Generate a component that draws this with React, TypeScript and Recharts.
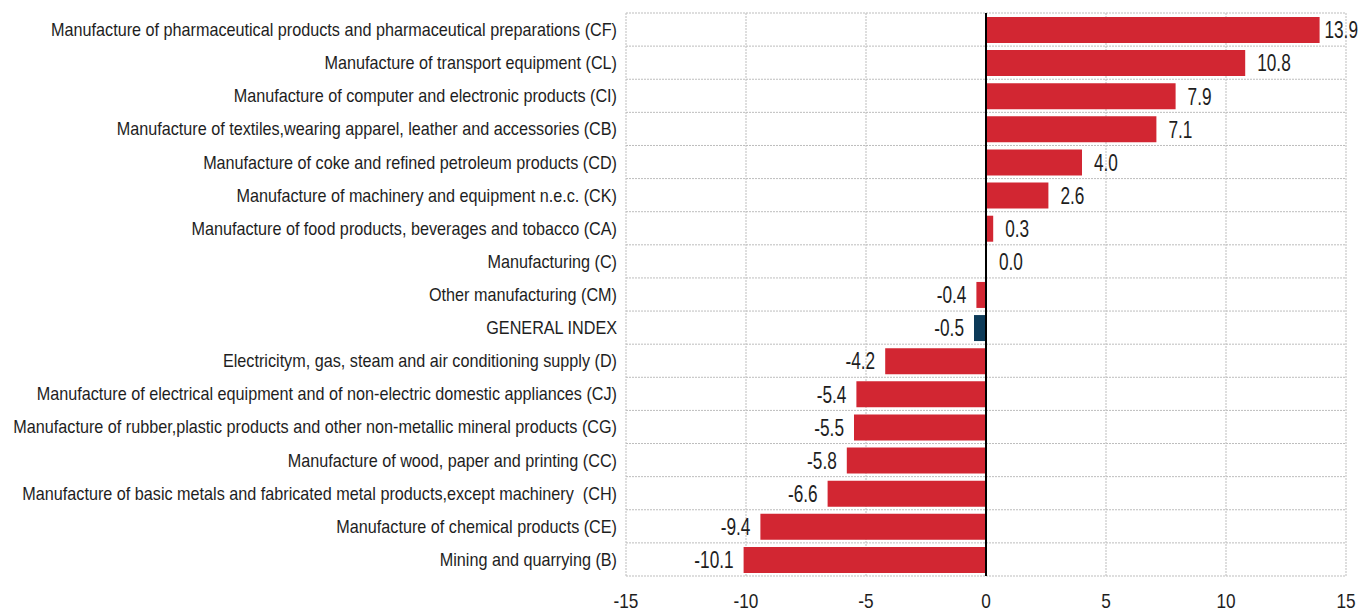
import React from "react";
import { BarChart, Bar, XAxis, YAxis, CartesianGrid, ReferenceLine, Cell, LabelList } from "recharts";

const categories = [
  "Manufacture of pharmaceutical products and pharmaceutical preparations (CF)",
  "Manufacture of transport equipment (CL)",
  "Manufacture of computer and electronic products (CI)",
  "Manufacture of textiles,wearing apparel, leather and accessories (CB)",
  "Manufacture of coke and refined petroleum products (CD)",
  "Manufacture of machinery and equipment n.e.c. (CK)",
  "Manufacture of food products, beverages and tobacco (CA)",
  "Manufacturing (C)",
  "Other manufacturing (CM)",
  "GENERAL INDEX",
  "Electricitym, gas, steam and air conditioning supply (D)",
  "Manufacture of electrical equipment and of non-electric domestic appliances (CJ)",
  "Manufacture of rubber,plastic products and other non-metallic mineral products (CG)",
  "Manufacture of wood, paper and printing (CC)",
  "Manufacture of basic metals and fabricated metal products,except machinery  (CH)",
  "Manufacture of chemical products (CE)",
  "Mining and quarrying (B)",
];

const values = [13.9, 10.8, 7.9, 7.1, 4.0, 2.6, 0.3, 0.0, -0.4, -0.5, -4.2, -5.4, -5.5, -5.8, -6.6, -9.4, -10.1];

const xTicks = [-15, -10, -5, 0, 5, 10, 15];

const highlight = "GENERAL INDEX";

const data = categories.map((name, i) => ({ name, value: values[i] }));

const CHART_W = 1360;
const FONT = "'Liberation Sans', Arial, sans-serif";
const SX = 0.82;
const SX_VAL = 0.75;
const SY_LABEL = 0.9;
const RED = "#D22632";
const BLUE = "#0C3A58";
const TEXT = "#1e1e1e";

const YTick = (props: any) => {
  const { x, y, payload } = props;
  return (
    <g transform={`translate(${x},${y})`}>
      <text
        transform={`scale(${SY_LABEL},1)`}
        x={0}
        y={0}
        dy="0.36em"
        textAnchor="end"
        fontFamily={FONT}
        fontSize={18}
        fill={TEXT}
        style={{ whiteSpace: "pre" }}
      >
        {payload.value}
      </text>
    </g>
  );
};

const XTick = (props: any) => {
  const { x, y, payload } = props;
  return (
    <g transform={`translate(${x},${y})`}>
      <text
        transform={`scale(${SX},1)`}
        x={0}
        y={0}
        dy="0.71em"
        textAnchor="middle"
        fontFamily={FONT}
        fontSize={21}
        fill={TEXT}
      >
        {payload.value}
      </text>
    </g>
  );
};

const ValueLabel = (props: any) => {
  const { x, y, width, height, value } = props;
  const left = Math.min(x, x + width);
  const right = Math.max(x, x + width);
  const cy = y + height / 2;
  const neg = value < 0;
  const labelW = 36;
  let tx = neg ? left - 10 : right + 12;
  let anchor = neg ? "end" : "start";
  if (!neg && tx + labelW > CHART_W - 2) {
    tx = CHART_W - 2;
    anchor = "end";
  }
  return (
    <g transform={`translate(${tx},${cy})`}>
      <text
        transform={`scale(${SX_VAL},1)`}
        x={0}
        y={0}
        dy="0.36em"
        textAnchor={anchor}
        fontFamily={FONT}
        fontSize={23}
        fill={TEXT}
      >
        {Number(value).toFixed(1)}
      </text>
    </g>
  );
};

export default function App() {
  const N = categories.length;
  return (
    <div style={{ position: "absolute", left: 0, top: 0 }}>
      <BarChart
        width={CHART_W}
        height={612}
        data={data}
        layout="vertical"
        margin={{ top: 13, right: 14, bottom: 0, left: 0 }}
        barSize={26}
      >
        <CartesianGrid
          stroke="#bdbdbd"
          strokeDasharray="2 1"
          horizontalCoordinatesGenerator={({ offset }: any) =>
            Array.from({ length: N + 1 }, (_, i) => offset.top + (i * offset.height) / N)
          }
        />
        <XAxis
          type="number"
          domain={[-15, 15]}
          ticks={xTicks}
          axisLine={false}
          tickLine={false}
          tickSize={0}
          tickMargin={17}
          height={36}
          tick={<XTick />}
        />
        <YAxis
          type="category"
          dataKey="name"
          width={626}
          axisLine={false}
          tickLine={false}
          tickSize={0}
          tickMargin={9}
          interval={0}
          tick={<YTick />}
        />
        <Bar dataKey="value" isAnimationActive={false} minPointSize={1}>
          {data.map((d, i) => (
            <Cell key={i} fill={d.name === highlight ? BLUE : RED} />
          ))}
          <LabelList dataKey="value" content={ValueLabel} />
        </Bar>
        <ReferenceLine x={0} stroke="#000" strokeWidth={2} />
      </BarChart>
    </div>
  );
}
